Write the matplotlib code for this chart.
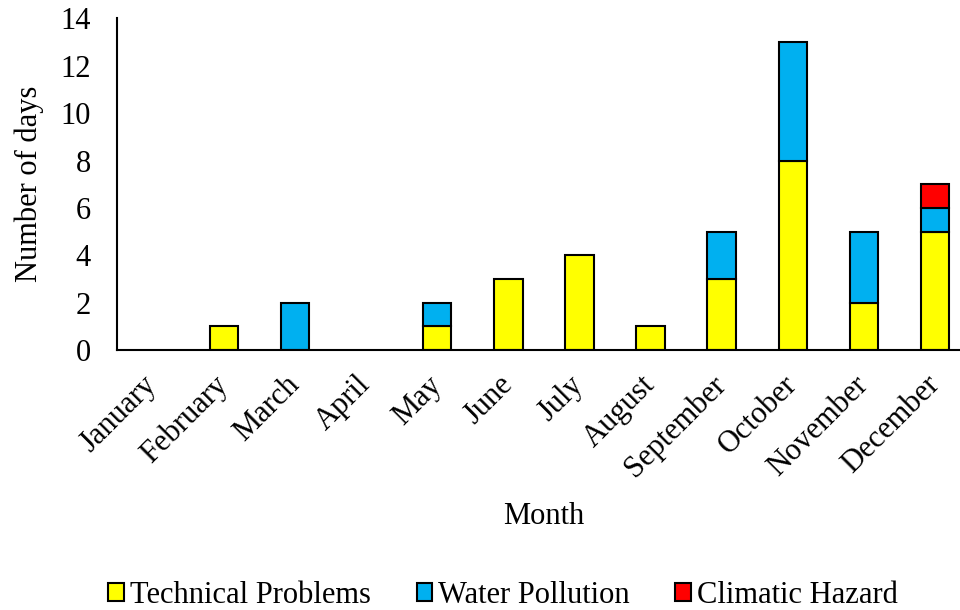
import matplotlib.pyplot as plt
import numpy as np

months = ["January", "February", "March", "April", "May", "June", "July",
          "August", "September", "October", "November", "December"]
technical = [0, 1, 0, 0, 1, 3, 4, 1, 3, 8, 2, 5]
water = [0, 0, 2, 0, 1, 0, 0, 0, 2, 5, 3, 1]
climatic = [0, 0, 0, 0, 0, 0, 0, 0, 0, 0, 0, 1]

plt.rcParams["font.family"] = ["Liberation Serif", "DejaVu Serif"]

fig = plt.figure(figsize=(9.6, 6.1), dpi=100)
ax = fig.add_axes([0.122, 0.426, 0.878, 0.544])

x = np.arange(len(months))
tech = np.array(technical, dtype=float)
wat = np.array(water, dtype=float)
cli = np.array(climatic, dtype=float)

bar_kw = dict(width=0.4, edgecolor="black", linewidth=1.5)
series = [
    (tech, np.zeros_like(tech), "#FFFF00", "Technical Problems"),
    (wat, tech, "#00B0F0", "Water Pollution"),
    (cli, tech + wat, "#FF0000", "Climatic Hazard"),
]
for values, bottom, color, label in series:
    # skip empty segments so no flat outline is drawn at zero
    keep = values > 0
    ax.bar(x[keep], values[keep], bottom=bottom[keep], color=color,
           label=label, **bar_kw)

ax.set_xlim(-0.5, 11.35)
ax.set_ylim(0, 14)
ax.set_yticks(range(0, 15, 2))
ax.set_xticks(x)
ax.set_xticklabels(months, rotation=45, ha="right", va="center",
                   rotation_mode="anchor")
ax.tick_params(axis="both", length=0, labelsize=22)
ax.tick_params(axis="y", pad=19)
ax.tick_params(axis="x", pad=22)

for side in ["top", "right"]:
    ax.spines[side].set_visible(False)
ax.spines["left"].set_linewidth(1.5)
ax.spines["bottom"].set_linewidth(1.5)

ax.set_ylabel("Number of days", fontsize=22, labelpad=12)
fig.text(0.566, 0.153, "Month", fontsize=22, ha="center", va="center")

fig.legend(loc="center", bbox_to_anchor=(0.524, 0.024), ncol=3, frameon=False,
           fontsize=22, handlelength=0.5, handleheight=0.5, handletextpad=0.2,
           columnspacing=1.5)

fig.savefig("out.png", dpi=100)
